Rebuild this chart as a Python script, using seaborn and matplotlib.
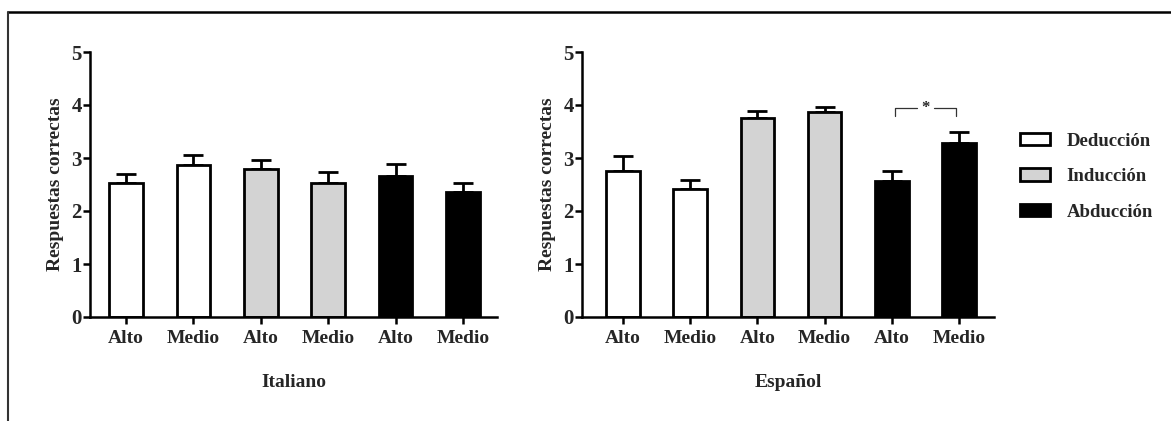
import matplotlib
matplotlib.use("Agg")
import matplotlib.pyplot as plt
import seaborn as sns
import pandas as pd
from matplotlib.lines import Line2D
from matplotlib.patches import Patch

sns.set_style("white")
plt.rcParams['font.family'] = ['Liberation Serif', 'DejaVu Serif']
plt.rcParams['font.weight'] = 'bold'

tasks = ["Deducción", "Deducción", "Inducción", "Inducción", "Abducción", "Abducción"]
levels = ["Alto", "Medio", "Alto", "Medio", "Alto", "Medio"]
italiano_mean = [2.52, 2.87, 2.80, 2.53, 2.66, 2.35]
italiano_err = [0.18, 0.19, 0.16, 0.20, 0.22, 0.17]
espanol_mean = [2.75, 2.41, 3.76, 3.87, 2.56, 3.28]
espanol_err = [0.28, 0.18, 0.12, 0.09, 0.19, 0.22]
task_colors = {"Deducción": "#ffffff", "Inducción": "#d3d3d3", "Abducción": "#000000"}
panel_titles = ["Italiano", "Español"]
ylabel = "Respuestas correctas"

W, H = 1171, 421
fig = plt.figure(figsize=(W / 100, H / 100), dpi=100)

def px_axes(x0, x1, ytop, ybot):
    return fig.add_axes([x0 / W, (H - ybot) / H, (x1 - x0) / W, (ybot - ytop) / H])

axL = px_axes(90, 497, 52, 317)
axR = px_axes(582, 994, 52, 317)

def draw(ax, means, errs, title, xlim):
    keys = [f"{t}-{l}" for t, l in zip(tasks, levels)]
    df = pd.DataFrame({"key": keys, "task": tasks, "mean": means})
    sns.barplot(data=df, x="key", y="mean", hue="task", palette=task_colors,
                order=keys, hue_order=["Deducción", "Inducción", "Abducción"],
                dodge=False, width=0.5, edgecolor="black", linewidth=2.0,
                legend=False, ax=ax, errorbar=None)
    for p in ax.patches:
        p.set_zorder(2)
    xs = list(range(len(keys)))
    ax.errorbar(xs, means, yerr=[[0] * len(errs), errs], fmt="none",
                ecolor="black", elinewidth=2.0, capsize=7, capthick=2.0, zorder=1)
    ax.set_xlim(*xlim)
    ax.set_ylim(0, 5)
    ax.set_yticks([0, 1, 2, 3, 4, 5])
    ax.set_xticks(xs)
    ax.set_xticklabels(levels, fontsize=14, fontweight="bold")
    for lab in ax.get_yticklabels():
        lab.set_fontsize(15)
        lab.set_fontweight("bold")
    ax.set_xlabel(title, fontsize=14, fontweight="bold", labelpad=19)
    ax.set_ylabel(ylabel, fontsize=14, fontweight="bold", labelpad=5)
    sns.despine(ax=ax)
    for s in ["left", "bottom"]:
        ax.spines[s].set_linewidth(1.8)
        ax.spines[s].set_color("black")
    ax.tick_params(axis="both", direction="out", length=5, width=1.8, color="black",
                   left=True, bottom=True, pad=1)
    ax.tick_params(axis="x", pad=4.5)

draw(axL, italiano_mean, italiano_err, panel_titles[0], (-0.534, 5.504))
draw(axR, espanol_mean, espanol_err, panel_titles[1], (-0.61, 5.52))

# significance bracket
axR.plot([4.05, 4.05, 4.38], [3.80, 3.94, 3.94], color="#333333", lw=0.9, clip_on=False)
axR.plot([4.62, 4.95, 4.95], [3.94, 3.94, 3.80], color="#333333", lw=0.9, clip_on=False)
axR.text(4.5, 3.94, "*", ha="center", va="center", fontsize=12, fontweight="bold")

# legend
handles = [Patch(facecolor=task_colors[t], edgecolor="black", linewidth=2.0, label=t)
           for t in ["Deducción", "Inducción", "Abducción"]]
fig.legend(handles=handles, loc="upper left", bbox_to_anchor=(1003 / W, 1 - 116 / H),
           frameon=False, prop={"family": "Liberation Serif", "weight": "bold", "size": 13.5},
           handlelength=1.6, handleheight=0.64, handletextpad=0.9, labelspacing=0.98)

# frame lines
fig.add_artist(Line2D([7.5 / W, 1], [1 - 11.5 / H, 1 - 11.5 / H], color="black", lw=1.8,
                      transform=fig.transFigure))
fig.add_artist(Line2D([7.5 / W, 7.5 / W], [1 - 11.5 / H, 0], color="#333333", lw=1.5,
                      transform=fig.transFigure))

fig.savefig("out.png", dpi=100, facecolor="white")
